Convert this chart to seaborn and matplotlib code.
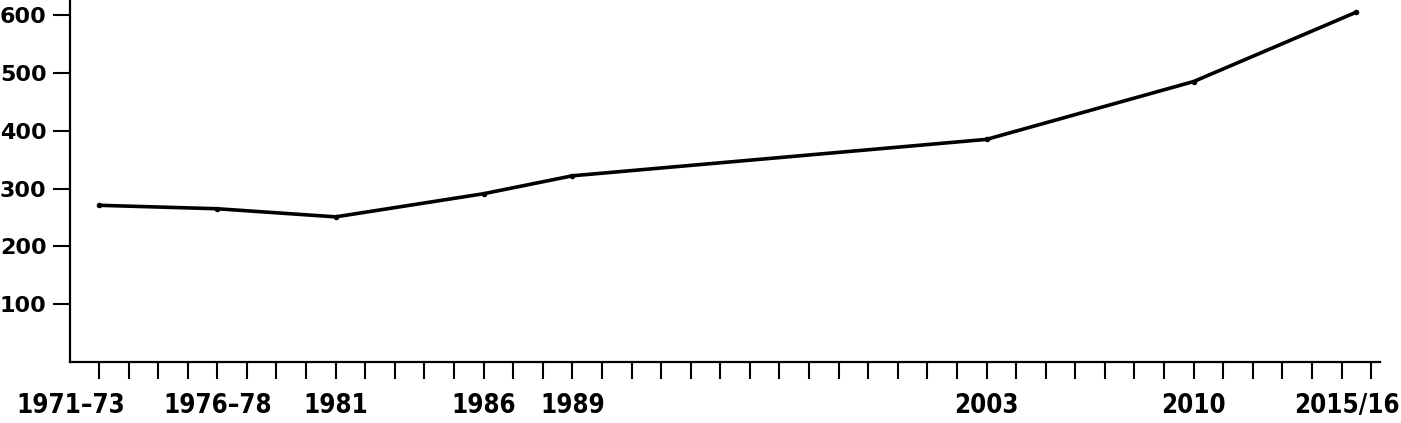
import matplotlib
matplotlib.use("Agg")
import matplotlib.pyplot as plt
import matplotlib.transforms as mtransforms
import numpy as np
import pandas as pd
import seaborn as sns

# survey periods, plotted at the year position used on the axis
period_labels = ['1971–73', '1976–78', '1981', '1986', '1989', '2003', '2010', '2015/16']
period_pos = [1973, 1977, 1981, 1986, 1989, 2003, 2010, 2015.5]
values = [271, 265, 251, 291, 322, 385, 485, 605]

y_ticks = [100, 200, 300, 400, 500, 600]
year_ticks = list(range(1973, 2017))

df = pd.DataFrame({'pos': period_pos, 'value': values})

sns.set_style("white")
plt.rcParams['font.family'] = ['DejaVu Sans']
plt.rcParams['text.color'] = 'black'

fig = plt.figure(figsize=(14.01, 4.23), dpi=100)
ax = fig.add_axes([70/1401, 61/423, 1310/1401, 362/423])

sns.lineplot(data=df, x='pos', y='value', ax=ax, color='black', linewidth=2.6,
			 marker='o', markersize=4, markeredgewidth=0)

ax.set_xlim(1972.02, 2016.3)
ax.set_ylim(0, 626)

for side in ['top', 'right']:
	ax.spines[side].set_visible(False)
for side in ['left', 'bottom']:
	ax.spines[side].set_linewidth(1.6)
	ax.spines[side].set_color('black')

# y axis
ax.set_yticks(y_ticks)
ax.set_yticklabels([str(v) for v in y_ticks], fontsize=16, fontweight='bold', color='black')
ax.tick_params(axis='y', direction='out', length=12, width=1.5, pad=5, left=True, colors='black')

# x axis: yearly marks as minor ticks, labels as major ticks without marks
ax.xaxis.remove_overlapping_locs = False
ax.set_xticks(year_ticks, minor=True)
ax.set_xticks(period_pos)
ax.set_xticklabels(period_labels, fontsize=18.5, fontweight='bold', fontstretch='condensed', color='black')
ax.tick_params(axis='x', which='minor', direction='out', length=12, width=1.5, bottom=True, colors='black')
ax.tick_params(axis='x', which='major', length=0, pad=22, bottom=True)

labels = ax.get_xticklabels()
shifts = {0: -28, len(labels) - 1: -9}
for i, dx in shifts.items():
	off = mtransforms.ScaledTranslation(dx/100, 0, fig.dpi_scale_trans)
	labels[i].set_transform(labels[i].get_transform() + off)

ax.set_xlabel('')
ax.set_ylabel('')

fig.savefig('out.png', dpi=100)
